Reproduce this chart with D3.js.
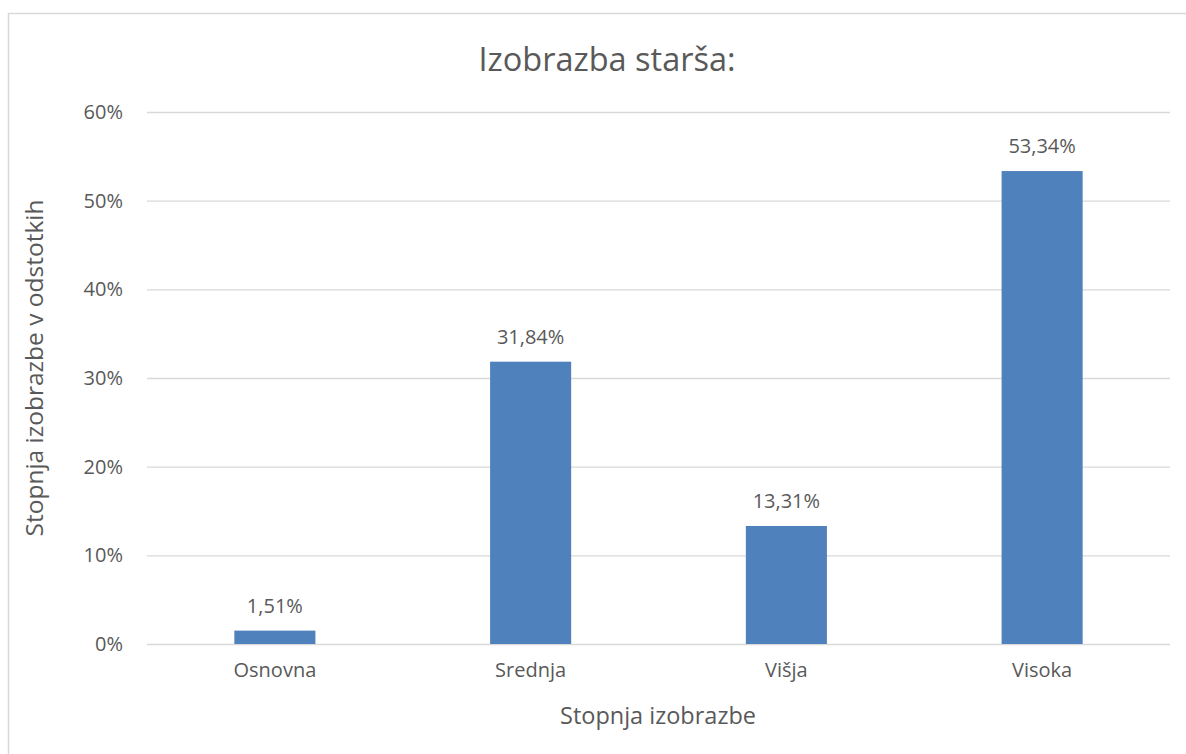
<!DOCTYPE html>
<html>
<head>
<meta charset="utf-8">
<script src="https://cdn.jsdelivr.net/npm/d3@7"></script>
<style>
  body { margin: 0; background: #fff; }
  text { font-family: "Open Sans", sans-serif; fill: #595959; }
</style>
</head>
<body>
<div id="chart"></div>
<script>
var categories = ["Osnovna", "Srednja", "Višja", "Visoka"];
var values = [1.51, 31.84, 13.31, 53.34];
var valueLabels = ["1,51%", "31,84%", "13,31%", "53,34%"];
var yTicks = [0, 10, 20, 30, 40, 50, 60];

var W = 1186, H = 754;
var margin = { top: 112, right: 16, bottom: 110, left: 147 },
    width = W - margin.left - margin.right,
    height = H - margin.top - margin.bottom;

var svg = d3.select("#chart")
    .append("svg")
    .attr("width", W)
    .attr("height", H);

// chart border
svg.append("rect")
    .attr("x", 8.5)
    .attr("y", 13.5)
    .attr("width", W)
    .attr("height", H)
    .attr("fill", "#fff")
    .attr("stroke", "#d9d9d9")
    .attr("stroke-width", 1.5);

var chart = svg.append("g")
    .attr("transform", "translate(" + margin.left + "," + margin.top + ")");

var x = d3.scaleBand()
    .domain(categories)
    .range([0, width])
    .paddingInner(0.683)
    .paddingOuter(0.683 / 2);

var y = d3.scaleLinear()
    .domain([0, 60])
    .range([height, 0]);

// gridlines + y labels
var yAxis = chart.append("g")
    .call(d3.axisLeft(y).tickValues(yTicks).tickSize(-width).tickPadding(24)
        .tickFormat(function (d) { return d + "%"; }));
yAxis.select(".domain").remove();
yAxis.selectAll("line").attr("stroke", "#d9d9d9").attr("stroke-width", 1.3);
yAxis.selectAll("text").style("font-size", "20px").attr("fill", "#595959");

chart.selectAll(".bar")
    .data(values)
    .enter().append("rect")
    .attr("class", "bar")
    .attr("x", function (d, i) { return x(categories[i]); })
    .attr("width", x.bandwidth())
    .attr("y", function (d) { return y(d); })
    .attr("height", function (d) { return height - y(d); })
    .attr("fill", "#4f81bd");

chart.selectAll(".lbl")
    .data(values)
    .enter().append("text")
    .attr("class", "lbl")
    .attr("x", function (d, i) { return x(categories[i]) + x.bandwidth() / 2; })
    .attr("y", function (d) { return y(d) - 18; })
    .attr("text-anchor", "middle")
    .style("font-size", "20px")
    .text(function (d, i) { return valueLabels[i]; });

// x axis labels
var xAxis = chart.append("g")
    .attr("transform", "translate(0," + height + ")")
    .call(d3.axisBottom(x).tickSize(0).tickPadding(19));
xAxis.select(".domain").remove();
xAxis.selectAll("text").style("font-size", "20px").attr("fill", "#595959");

// titles
svg.append("text")
    .attr("x", 607)
    .attr("y", 71)
    .attr("text-anchor", "middle")
    .style("font-size", "32.5px")
    .text("Izobrazba starša:");

svg.append("text")
    .attr("x", 658)
    .attr("y", 724)
    .attr("text-anchor", "middle")
    .style("font-size", "23.5px")
    .text("Stopnja izobrazbe");

svg.append("text")
    .attr("transform", "translate(43,368) rotate(-90)")
    .attr("text-anchor", "middle")
    .style("font-size", "24.5px")
    .text("Stopnja izobrazbe v odstotkih");
</script>
</body>
</html>
